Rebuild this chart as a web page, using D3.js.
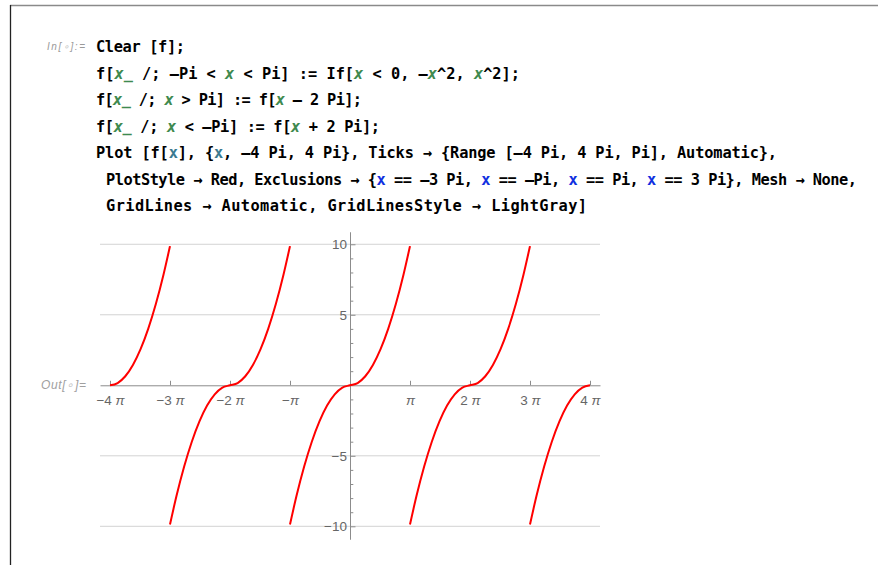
<!DOCTYPE html>
<html>
<head>
<meta charset="utf-8">
<script src="https://cdn.jsdelivr.net/npm/d3@7"></script>
<style>
  body { margin: 0; background: #fff; }
  svg { display: block; }
</style>
</head>
<body>
<svg width="878" height="565"></svg>
<script>
// notebook input lines: [text, style] pieces
const codeLines = [
    [["Clear [f];", "k"]],
    [["f[", "k"], ["x_", "g"], [" /; \u2013Pi < ", "k"], ["x", "g"], [" < Pi] := If[", "k"], ["x", "g"], [" < 0, \u2013", "k"], ["x", "g"], ["^2, ", "k"], ["x", "g"], ["^2];", "k"]],
    [["f[", "k"], ["x_", "g"], [" /; ", "k"], ["x", "g"], [" > Pi] := f[", "k"], ["x", "g"], [" \u2013 2 Pi];", "k"]],
    [["f[", "k"], ["x_", "g"], [" /; ", "k"], ["x", "g"], [" < \u2013Pi] := f[", "k"], ["x", "g"], [" + 2 Pi];", "k"]],
    [["Plot [f[", "k"], ["x", "t"], ["], {", "k"], ["x", "t"], [", \u20134 Pi, 4 Pi}, Ticks \u2192 {Range [\u20134 Pi, 4 Pi, Pi], Automatic},", "k"]],
    [["PlotStyle \u2192 Red, Exclusions \u2192 {", "k"], ["x", "b"], [" == \u20133 Pi, ", "k"], ["x", "b"], [" == \u2013Pi, ", "k"], ["x", "b"], [" == Pi, ", "k"], ["x", "b"], [" == 3 Pi}, Mesh \u2192 None,", "k"]],
    [["GridLines \u2192 Automatic, GridLinesStyle \u2192 LightGray]", "k"]]
];
const codeStart = [96, 96, 96, 96, 96, 106, 106];
const codeEnd = [185, 520, 362, 380, 777, 857, 587];

// x ticks in multiples of pi
const xTickMult = [-4, -3, -2, -1, 0, 1, 2, 3, 4];
const xTickCoef = ["\u22124", "\u22123", "\u22122", "\u2212", "", "", "2", "3", "4"];
const yMajor = [-10, -5, 5, 10];
const yMinor = [-9, -8, -7, -6, -4, -3, -2, -1, 1, 2, 3, 4, 6, 7, 8, 9];
const gridY = [-10, -5, 5, 10];

// one branch of the curve (offset from branch centre, value)
const branchOffset = [0, 0.4, 0.8, 1.2, 1.6, 2.0, 2.4, 2.8, Math.PI];
const branchValue = [0, 0.16, 0.64, 1.44, 2.56, 4.0, 5.76, 7.84, 9.87];
// branch centres (multiples of pi) and plotted interval
const pieceCenter = [-4, -2, 0, 2, 4];
const plotFrom = -4, plotTo = 4;
const exclusions = [-3, -1, 1, 3];

const svg = d3.select('svg');
const PI = Math.PI;

// notebook frame
svg.append('line').attr('x1', 10).attr('x2', 878).attr('y1', 5.5).attr('y2', 5.5)
    .attr('stroke', '#8a8a8a').attr('stroke-width', 1.5);
svg.append('line').attr('x1', 10.5).attr('x2', 10.5).attr('y1', 5).attr('y2', 565)
    .attr('stroke', '#222').attr('stroke-width', 1.3);

// In / Out labels
const inLab = svg.append('text').attr('x', 47).attr('y', 50)
    .attr('font-family', 'Liberation Sans, Arial, sans-serif').attr('font-style', 'italic')
    .attr('font-size', 10).attr('fill', '#9a9a9a')
    .attr('textLength', 38).attr('lengthAdjust', 'spacing');
inLab.append('tspan').text('In[');
inLab.append('tspan').attr('fill', '#c8c8c8').text('\u2218');
inLab.append('tspan').text(']:=');

const outLab = svg.append('text').attr('x', 41).attr('y', 388.5)
    .attr('font-family', 'Liberation Sans, Arial, sans-serif').attr('font-style', 'italic')
    .attr('font-size', 12).attr('fill', '#a0a0a0')
    .attr('textLength', 45).attr('lengthAdjust', 'spacing');
outLab.append('tspan').text('Out[');
outLab.append('tspan').attr('fill', '#c8c8c8').text('\u2218');
outLab.append('tspan').text(']=');

// code
const styleMap = {
    k: { fill: '#000', italic: false },
    g: { fill: '#3f8a4f', italic: true },
    t: { fill: '#3b7a90', italic: false },
    b: { fill: '#1030e0', italic: false }
};
const code = svg.append('g')
    .attr('font-family', 'DejaVu Sans Mono, monospace')
    .attr('font-weight', 'bold')
    .attr('font-size', 15.3);

code.selectAll('text')
    .data(codeLines)
    .enter()
    .append('text')
    .attr('x', (d, i) => codeStart[i])
    .attr('y', (d, i) => 52 + i * 26.5)
    .attr('textLength', (d, i) => codeEnd[i] - codeStart[i])
    .attr('lengthAdjust', 'spacing')
    .attr('xml:space', 'preserve')
    .each(function (d) {
        const t = d3.select(this);
        d.forEach(p => {
            const s = styleMap[p[1]];
            t.append('tspan')
                .attr('fill', s.fill)
                .attr('font-style', s.italic ? 'italic' : null)
                .text(p[0]);
        });
    });

// plot scales
const x = d3.scaleLinear()
    .domain([-(4 + 1 / 6) * PI, (4 + 1 / 6) * PI])
    .range([100, 600]);
const y = d3.scaleLinear()
    .domain([-10.9, 10.87])
    .range([539, 232]);

const plot = svg.append('g');

// grid lines
plot.selectAll('line.grid')
    .data(gridY)
    .enter()
    .append('line')
    .attr('class', 'grid')
    .attr('x1', 100).attr('x2', 600)
    .attr('y1', d => y(d)).attr('y2', d => y(d))
    .attr('stroke', '#d3d3d3')
    .attr('stroke-width', 1);

const axisColor = '#8c8c8c';
const labelColor = '#666';

// x axis
const xAxis = plot.append('g')
    .attr('transform', `translate(0,${y(0)})`)
    .call(d3.axisBottom(x)
        .tickValues(xTickMult.map(k => k * PI))
        .tickSizeInner(-4.5)
        .tickSizeOuter(0)
        .tickPadding(10)
        .tickFormat(''));
xAxis.attr('font-size', null).attr('font-family', null);

xAxis.selectAll('.tick text')
    .style('font-family', 'Liberation Sans, Arial, sans-serif')
    .style('font-size', '13.5px')
    .attr('fill', labelColor)
    .each(function (d, i) {
        if (xTickMult[i] === 0) return;
        const t = d3.select(this);
        if (xTickCoef[i] !== '') {
            t.append('tspan').text(xTickCoef[i] + (xTickCoef[i] === '\u2212' ? '' : ' '));
        }
        t.append('tspan').attr('font-style', 'italic').text('\u03c0');
    });

// y axis: minor ticks then major ticks
plot.append('g')
    .attr('transform', `translate(${x(0)},0)`)
    .call(d3.axisLeft(y)
        .tickValues(yMinor)
        .tickSizeInner(-3.3)
        .tickSizeOuter(0)
        .tickFormat(''));

const yAxis = plot.append('g')
    .attr('transform', `translate(${x(0)},0)`)
    .call(d3.axisLeft(y)
        .tickValues(yMajor)
        .tickSizeInner(-5.5)
        .tickSizeOuter(0)
        .tickPadding(3));
yAxis.attr('font-size', null).attr('font-family', null);

yAxis.selectAll('.tick text')
    .style('font-family', 'Liberation Sans, Arial, sans-serif')
    .style('font-size', '13.5px')
    .attr('fill', labelColor);

plot.selectAll('.domain, .tick line')
    .attr('stroke', axisColor)
    .attr('stroke-width', 1);

// curve pieces, split at exclusions
const pieces = pieceCenter.map(c => {
    const lo = Math.max(c - 1, plotFrom) * PI;
    const hi = Math.min(c + 1, plotTo) * PI;
    const pts = [];
    for (let i = branchOffset.length - 1; i >= 1; i--) {
        pts.push([c * PI - branchOffset[i], -branchValue[i]]);
    }
    for (let i = 0; i < branchOffset.length; i++) {
        pts.push([c * PI + branchOffset[i], branchValue[i]]);
    }
    return pts.filter(p => p[0] >= lo - 1e-9 && p[0] <= hi + 1e-9);
});

const line = d3.line()
    .x(d => x(d[0]))
    .y(d => y(d[1]))
    .curve(d3.curveMonotoneX);

plot.selectAll('path.curve')
    .data(pieces)
    .enter()
    .append('path')
    .attr('class', 'curve')
    .attr('d', line)
    .attr('fill', 'none')
    .attr('stroke', '#ff0000')
    .attr('stroke-width', 2);
</script>
</body>
</html>
